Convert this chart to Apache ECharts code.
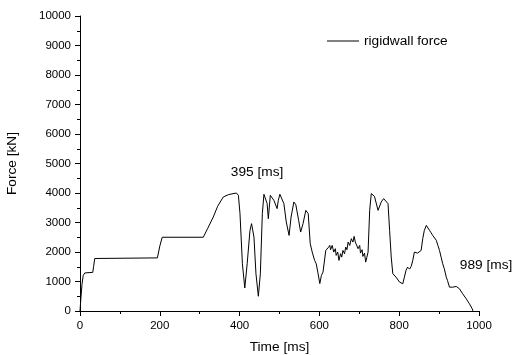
<!DOCTYPE html>
<html>
<head>
<meta charset="utf-8">
<script src="https://cdn.jsdelivr.net/npm/echarts@6/dist/echarts.min.js"></script>
<style>
  html, body { margin: 0; padding: 0; background: #fff; }
  #chart { width: 514px; height: 355px; }
</style>
</head>
<body>
<div id="chart"></div>
<script>
// Rigid wall contact force over time
const seriesName = 'rigidwall force';
const timeMs = [
  0, 2, 5, 8, 12, 16, 32, 34, 37, 40,
  194, 200, 206, 309, 320, 334, 345, 359, 372, 392,
  397, 401, 407, 413, 419, 426, 430, 436, 441, 447,
  452, 457, 461, 466, 469, 472, 474, 477, 482, 486,
  489, 494, 497, 501, 506, 511, 517, 524, 529, 536,
  541, 548, 553, 559, 566, 572, 577, 582, 588, 592,
  596, 601, 605, 609, 616, 622, 626, 628, 632, 636,
  640, 642, 646, 649, 653, 656, 659, 663, 666, 669,
  672, 676, 680, 684, 687, 690, 692, 697, 701, 703,
  707, 709, 713, 716, 719, 722, 726, 730, 734, 738,
  747, 751, 755, 761, 766, 772, 776, 780, 784, 788,
  792, 796, 801, 805, 809, 813, 817, 821, 826, 830,
  834, 838, 842, 846, 851, 855, 859, 863, 868, 871,
  876, 880, 884, 888, 893, 897, 901, 905, 909, 913,
  918, 921, 926, 930, 934, 943, 951, 959, 968, 976,
  983, 985
];
const forceKN = [
  0, 400, 900, 1200, 1290, 1310, 1310, 1500, 1780, 1800,
  1800, 2200, 2500, 2500, 2800, 3185, 3550, 3864, 3945, 4000,
  3922, 3300, 1603, 780, 1603, 2733, 2961, 2506, 1263, 500,
  1263, 3300, 3956, 3956, 3640, 3130, 3180, 3922, 3922, 3750,
  3810, 3470, 3752, 3956, 3922, 3640, 3016, 2563, 3185, 3695,
  3600, 3073, 2676, 2961, 3412, 3300, 2282, 1997, 1715, 1603,
  1318, 930, 1205, 1318, 2054, 2146, 2224, 2078, 2224, 1997,
  2112, 1885, 1997, 1715, 1942, 1827, 2054, 1942, 2166, 2078,
  2336, 2224, 2452, 2336, 2530, 2336, 2282, 2112, 2224, 1963,
  2078, 1851, 1963, 1657, 1827, 1997, 3412, 3980, 3956, 3888,
  3412, 3355, 3695, 3810, 3810, 3640, 2733, 1827, 1263, 1230,
  1148, 1100, 978, 1000, 924, 1148, 1375, 1488, 1420, 1511,
  1715, 1997, 1960, 1963, 1990, 2054, 2452, 2733, 2903, 2937,
  2733, 2650, 2563, 2520, 2394, 2224, 2054, 1827, 1603, 1433,
  1148, 1036, 808, 780, 808, 832, 754, 584, 414, 244,
  75, 0
];

// Text notes placed at [time, force]
const noteText = ['395 [ms]', '989 [ms]'];
const noteTime = [378, 952];
const noteForce = [4700, 1545];

// Axis settings
const xMin = 0, xMax = 1000, xStep = 200;
const yMin = 0, yMax = 10000, yStep = 1000;
const xTitle = 'Time [ms]';
const yTitle = 'Force [kN]';

const font = 'Liberation Sans, Arial, Helvetica, sans-serif';
const lineData = timeMs.map((t, i) => [t, forceKN[i]]);
const notes = noteText.map((txt, i) => ({
  coord: [noteTime[i], noteForce[i]],
  value: txt
}));

const axisCommon = {
  axisLine: { show: true, onZero: false, lineStyle: { color: '#000', width: 1 } },
  axisTick: { show: true, inside: false, length: 5, lineStyle: { color: '#000', width: 1 } },
  minorTick: { show: true, splitNumber: 2, length: 3, lineStyle: { color: '#000', width: 1 } },
  splitLine: { show: false },
  minorSplitLine: { show: false },
  axisLabel: { color: '#000', fontFamily: font, fontSize: 11.5, margin: 9, formatter: v => String(v) },
  nameLocation: 'middle',
  nameTextStyle: { color: '#000', fontFamily: font, fontSize: 13.7 }
};

const chart = echarts.init(document.getElementById('chart'), null, { renderer: 'canvas' });
chart.setOption({
  animation: false,
  backgroundColor: '#fff',
  grid: { left: 80, right: 35, top: 16, bottom: 44, containLabel: false, outerBoundsMode: 'none' },
  legend: {
    left: 327,
    top: 34,
    padding: 0,
    icon: 'rect',
    itemWidth: 32,
    itemHeight: 1,
    itemStyle: { color: '#000' },
    textStyle: { color: '#000', fontFamily: font, fontSize: 13.7 },
    data: [seriesName]
  },
  xAxis: Object.assign({}, axisCommon, {
    type: 'value',
    min: xMin, max: xMax, interval: xStep,
    name: xTitle,
    nameGap: 29
  }),
  yAxis: Object.assign({}, axisCommon, {
    type: 'value',
    min: yMin, max: yMax, interval: yStep,
    name: yTitle,
    nameGap: 61
  }),
  series: [{
    name: seriesName,
    type: 'line',
    data: lineData,
    symbol: 'none',
    showSymbol: false,
    lineStyle: { color: '#000', width: 1 },
    itemStyle: { color: '#000' },
    markPoint: {
      symbol: 'circle',
      symbolSize: 0,
      silent: true,
      label: {
        show: true,
        position: 'inside',
        align: 'left',
        verticalAlign: 'middle',
        color: '#000',
        fontFamily: font,
        fontSize: 13.7,
        formatter: p => p.value
      },
      data: notes
    }
  }]
});
</script>
</body>
</html>
